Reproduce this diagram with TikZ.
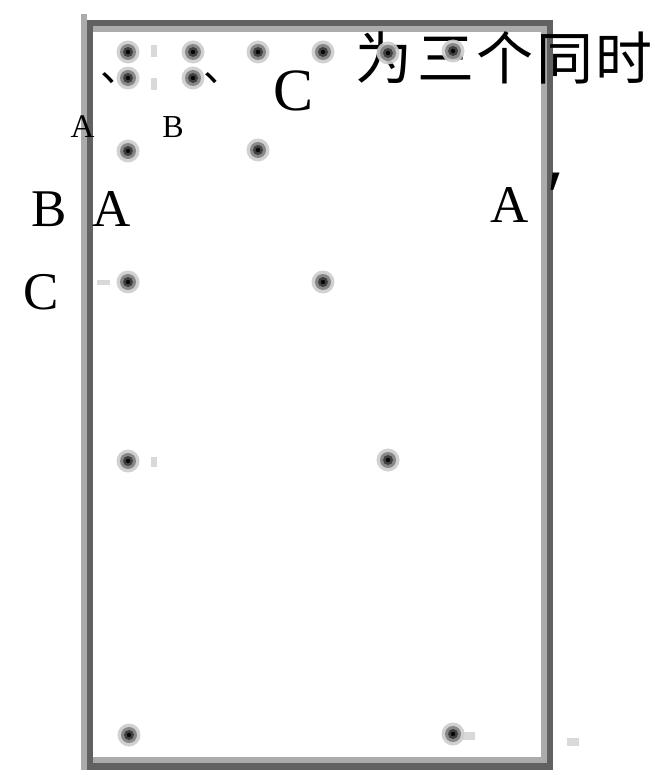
\documentclass[tikz,border=0pt]{standalone}
\usepackage{fontspec}
\setmainfont{Liberation Serif}
\newfontfamily\cjk{Noto Sans CJK SC}
\begin{document}
\begin{tikzpicture}[x=1pt,y=-1pt,
  dot/.style={circle,inner sep=0pt,minimum size=23pt,fill=black!20,fill opacity=0.9,
    path picture={
      \fill[black!50] (path picture bounding box.center) circle (8pt);
      \fill[black!78] (path picture bounding box.center) circle (5pt);
      \fill[black] (path picture bounding box.center) circle (2.2pt);}},
  speck/.style={fill=black!15,draw=none},
  lbl/.style={inner sep=0pt,anchor=base},
  zhc/.style={inner sep=0pt,anchor=base,font=\cjk\fontsize{57}{57}\selectfont},
  darkline/.style={draw=black!62,line width=6.5pt},
  lightline/.style={draw=black!33,line width=6pt}]
\useasboundingbox[fill=white] (0,0) rectangle (654,775);
% frame
\draw[lightline] (84,14) -- (84,770);
\draw[lightline] (93,29) -- (547,29);
\draw[lightline] (543.5,26) -- (543.5,763);
\draw[lightline] (93,760) -- (547,760);
\draw[darkline] (90,23) rectangle (550,766.5);
% specks
\fill[speck] (151,45) rectangle (157,57);
\fill[speck] (151,78) rectangle (157,90);
\fill[speck] (151,457) rectangle (157,467);
\fill[speck] (567,738) rectangle (579,746);
\fill[speck] (463,732) rectangle (475,740);
\fill[speck] (97,280) rectangle (110,285);
% texts
\node[lbl,anchor=base west] (comma1) at (100.5,82) {\cjk\fontsize{40}{40}\selectfont 、};
\node[lbl,anchor=base west] (comma2) at (203.5,82) {\cjk\fontsize{40}{40}\selectfont 、};
\node[lbl] (bigC) at (294,111) {\fontsize{60}{60}\selectfont C};
\node[zhc] (zh1) at (384,80) {为};
\node[zhc] (zh2) at (446,80) {三};
\node[zhc] (zh3) at (505,80) {个};
\node[zhc] (zh4) at (565,80) {同};
\node[zhc] (zh5) at (624,80) {时};
\node[lbl] (sA) at (82.5,138) {\fontsize{33}{33}\selectfont A};
\node[lbl] (sB) at (173,138) {\fontsize{32}{32}\selectfont B};
\node[lbl] (mB) at (49,227) {\fontsize{53}{53}\selectfont B};
\node[lbl] (mA) at (111.5,227) {\fontsize{53}{53}\selectfont A};
\node[lbl] (mC) at (41,309) {\fontsize{53}{53}\selectfont C};
\node[lbl] (rA) at (509.5,223) {\fontsize{53}{53}\selectfont A};
\node[lbl] (pr) at (556,222) {\fontsize{74}{74}\selectfont ′};
% dots
\node[dot] (a1) at (128,52) {};
\node[dot] (b1) at (193,52) {};
\node[dot] (c1) at (258,52) {};
\node[dot] (d1) at (323,52) {};
\node[dot] (e1) at (388,53) {};
\node[dot] (f1) at (453,51) {};
\node[dot] (a2) at (128,78) {};
\node[dot] (b2) at (193,78) {};
\node[dot] (a3) at (128,151) {};
\node[dot] (c3) at (258,150) {};
\node[dot] (a4) at (128,282) {};
\node[dot] (d4) at (323,282) {};
\node[dot] (a5) at (128,461) {};
\node[dot] (e5) at (388,460) {};
\node[dot] (a6) at (129,735) {};
\node[dot] (f6) at (453,734) {};
\end{tikzpicture}
\end{document}
